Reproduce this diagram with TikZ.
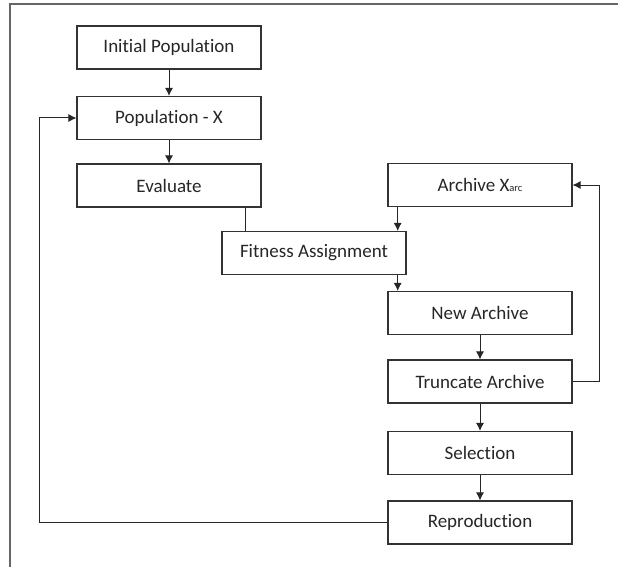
\documentclass[tikz,border=0pt]{standalone}
\usepackage{fontspec}
\setmainfont[Ligatures={NoCommon}]{Carlito}
\usetikzlibrary{arrows.meta}
\tikzset{
  stage/.style={draw=black!80, line width=1.1pt, minimum width=184pt, minimum height=43pt,
                inner sep=0pt, text=black!85, font=\fontsize{19}{19}\selectfont},
  flow/.style={draw=black!85, line width=1pt, -{Latex[length=8pt,width=8pt]}},
  link/.style={draw=black!85, line width=1pt},
}
\begin{document}
\begin{tikzpicture}[x=1pt,y=-1pt]
%    \draw (0,0) to[grid with coordinates] (618,567);
    \useasboundingbox (0,0) rectangle (618,567);
    \draw[black!60, line width=1.5pt] (10,567) -- (10,4) -- (618,4);

    \node[stage](init)    at (169,47.5)  {Initial Population};
    \node[stage](popx)    at (169,118)   {Population - X};
    \node[stage](eval)    at (169,185.5) {Evaluate};
    \node[stage](fitness) at (314,253)   {Fitness Assignment};
    \node[stage](archive) at (480,185)   {Archive X{\fontsize{10.5}{10.5}\selectfont arc}};
    \node[stage](newarc)  at (480,313)   {New Archive};
    \node[stage](trunc)   at (480,381.5) {Truncate Archive};
    \node[stage](select)  at (480,453)   {Selection};
    \node[stage](repro)   at (480,522.5) {Reproduction};

    \draw[flow] (init)  to (popx);
    \draw[flow] (popx)  to (eval);
    \draw[link] (eval.-16.6) to (eval.-16.6 |- fitness.north);
    \draw[flow] (archive.-165.3) to (archive.-165.3 |- fitness.north);
    \draw[flow] (newarc.165.3 |- fitness.south) to (newarc.165.3);
    \draw[flow] (newarc) to (trunc);
    \draw[flow] (trunc)  to (select);
    \draw[flow] (select) to (repro);
    \draw[flow] (trunc.east) -- ++(27,0) |- (archive.east);
    \draw[flow] (repro.west) -- ++(-348,0) |- (popx.west);
\end{tikzpicture}
\end{document}
